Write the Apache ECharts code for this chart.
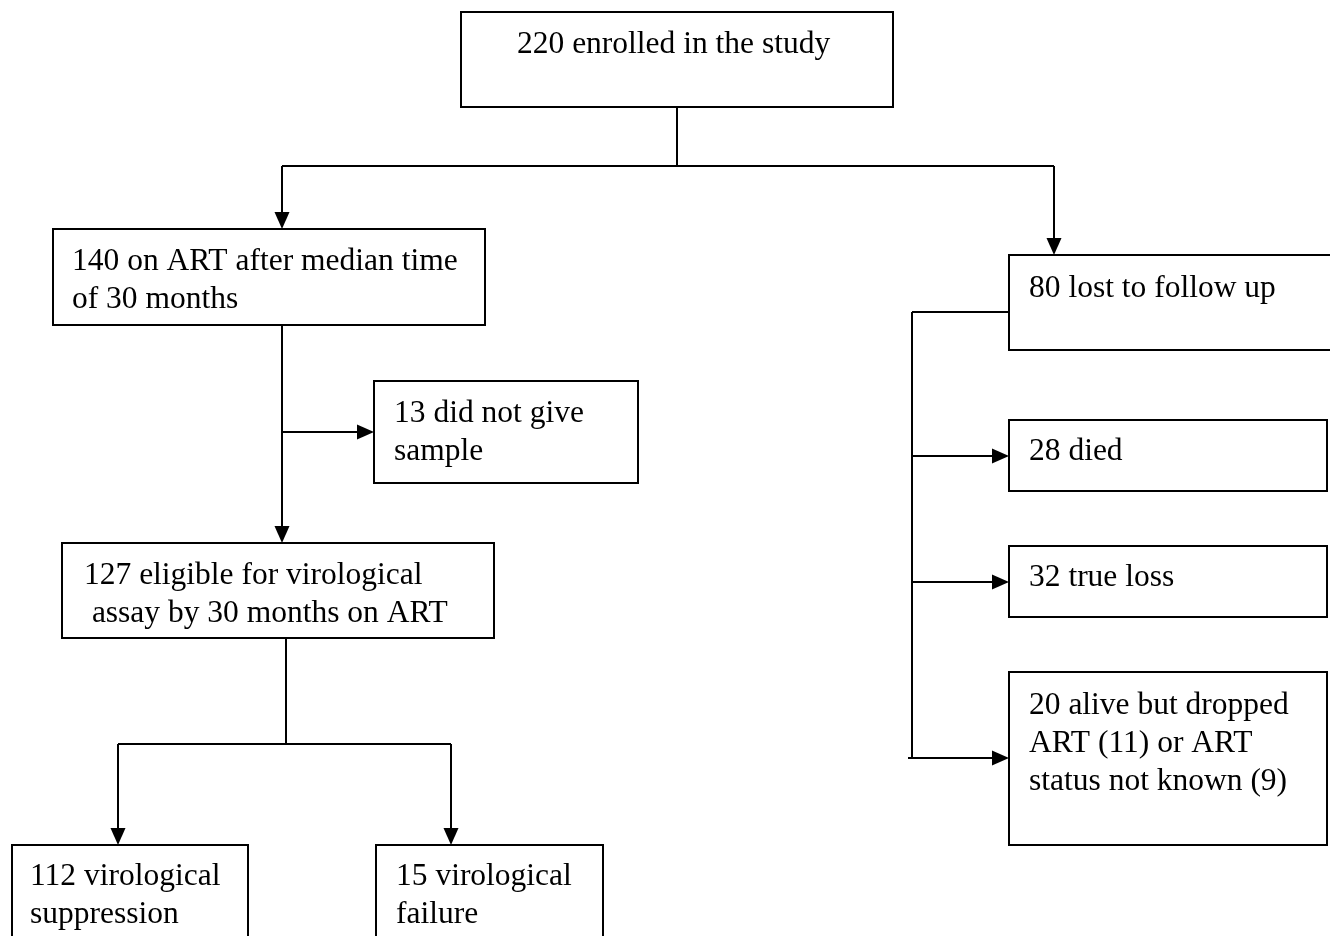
<!DOCTYPE html>
<html>
<head>
<meta charset="utf-8">
<script src="https://cdn.jsdelivr.net/npm/echarts@6/dist/echarts.min.js"></script>
<style>
html,body{margin:0;padding:0;background:#fff;}
#chart{width:1330px;height:936px;}
</style>
</head>
<body>
<div id="chart"></div>
<script>
// ---- content (text of each box) ----
const boxLabels = [
  '220 enrolled in the study',
  '140 on ART after median time\nof 30 months',
  '13 did not give\nsample',
  '127 eligible for virological\n assay by 30 months on ART',
  '112 virological\nsuppression',
  '15 virological\nfailure',
  '80 lost to follow up',
  '28 died',
  '32 true loss',
  '20 alive but dropped\nART (11) or ART\nstatus not known (9)'
];

// ---- layout (diagram coordinates, pixels of a 1330 x 936 page) ----
const boxLeft   = [461, 53, 374, 62, 12, 376, 1009, 1009, 1009, 1009];
const boxTop    = [12, 229, 381, 543, 845, 845, 255, 420, 546, 672];
const boxRight  = [893, 485, 638, 494, 248, 603, 1345, 1327, 1327, 1327];
const boxBottom = [107, 325, 483, 638, 950, 950, 350, 491, 617, 845];
const textLeft  = [517, 72, 394, 84, 30, 396, 1029, 1029, 1029, 1029];
const textFirstLineY = [45, 262, 414, 576, 877, 877, 289, 452, 578, 706];

// connector segments: [x1, y1, x2, y2, arrowAtEnd]
const connectors = [
  [677, 107, 677, 166, 0],
  [282, 166, 1054, 166, 0],
  [282, 166, 282, 229, 1],
  [1054, 166, 1054, 255, 1],
  [282, 325, 282, 543, 1],
  [282, 432, 374, 432, 1],
  [286, 638, 286, 744, 0],
  [118, 744, 451, 744, 0],
  [118, 744, 118, 845, 1],
  [451, 744, 451, 845, 1],
  [1012, 312, 912, 312, 0],
  [912, 312, 912, 758, 0],
  [912, 456, 1009, 456, 1],
  [912, 582, 1009, 582, 1],
  [908, 758, 1009, 758, 1]
];

const FONT = '31.5px "Liberation Serif", "Times New Roman", serif';
const LINE_H = 38;

const chart = echarts.init(document.getElementById('chart'), null, {renderer: 'canvas'});

const boxData = boxLabels.map((t, i) => [boxLeft[i], boxTop[i], boxRight[i], boxBottom[i], textLeft[i], textFirstLineY[i], i]);

chart.setOption({
  backgroundColor: '#ffffff',
  animation: false,
  grid: {left: 0, right: 0, top: 0, bottom: 0},
  xAxis: {type: 'value', min: 0, max: 1330, show: false},
  yAxis: {type: 'value', min: 0, max: 936, inverse: true, show: false},
  series: [
    {
      type: 'custom',
      coordinateSystem: 'cartesian2d',
      clip: false,
      silent: true,
      data: connectors,
      renderItem: function (params, api) {
        const p1 = api.coord([api.value(0), api.value(1)]);
        const p2 = api.coord([api.value(2), api.value(3)]);
        const arrow = api.value(4);
        const children = [];
        const dx = p2[0] - p1[0], dy = p2[1] - p1[1];
        const len = Math.sqrt(dx * dx + dy * dy) || 1;
        const ux = dx / len, uy = dy / len;
        const aL = 17, aW = 7.5;
        let end = p2;
        if (arrow) {
          end = [p2[0] - ux * aL, p2[1] - uy * aL];
        }
        children.push({
          type: 'line',
          shape: {x1: p1[0], y1: p1[1], x2: end[0], y2: end[1]},
          style: {stroke: '#000', lineWidth: 2}
        });
        if (arrow) {
          const bx = p2[0] - ux * aL, by = p2[1] - uy * aL;
          children.push({
            type: 'polygon',
            shape: {points: [
              [p2[0], p2[1]],
              [bx - uy * aW, by + ux * aW],
              [bx + uy * aW, by - ux * aW]
            ]},
            style: {fill: '#000'}
          });
        }
        return {type: 'group', children: children};
      }
    },
    {
      type: 'custom',
      coordinateSystem: 'cartesian2d',
      clip: false,
      silent: true,
      data: boxData,
      renderItem: function (params, api) {
        const tl = api.coord([api.value(0), api.value(1)]);
        const br = api.coord([api.value(2), api.value(3)]);
        const tp = api.coord([api.value(4), api.value(5)]);
        const idx = api.value(6);
        return {
          type: 'group',
          children: [
            {
              type: 'rect',
              shape: {x: tl[0], y: tl[1], width: br[0] - tl[0], height: br[1] - tl[1]},
              style: {fill: '#fff', stroke: '#000', lineWidth: 2}
            },
            {
              type: 'text',
              style: {
                text: boxLabels[idx],
                x: tp[0],
                y: tp[1] - LINE_H / 2,
                font: FONT,
                lineHeight: LINE_H,
                fill: '#000',
                align: 'left',
                verticalAlign: 'top'
              }
            }
          ]
        };
      }
    }
  ]
});
</script>
</body>
</html>
